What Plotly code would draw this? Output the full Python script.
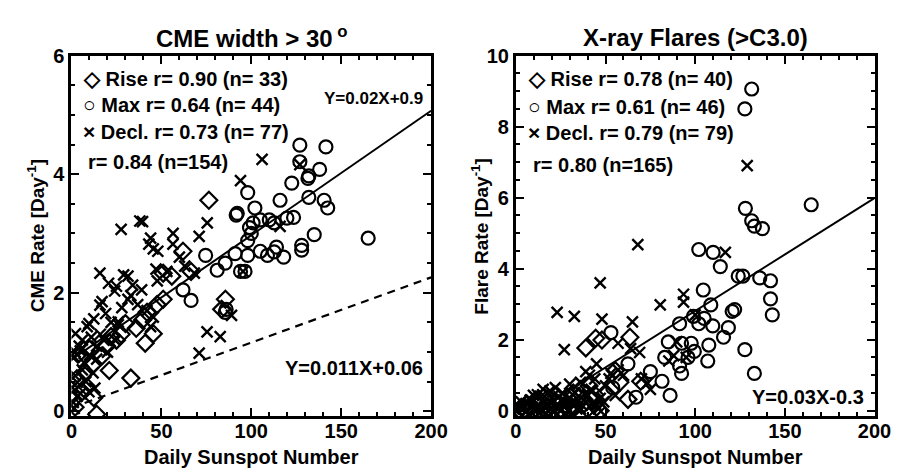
import plotly.graph_objects as go

# ---------------- data: CME panel ----------------
cme_rise_x = [76.4, 62, 51, 55.8, 66.5, 85.6, 83.5, 33, 14, 41, 45.5, 39.5, 42, 47.6, 51, 22, 21, 16.8,
              12.4, 7.6, 4.3, 2, 11.4, 27.6, 30, 19.5, 8.7, 6, 3, 1, 10, 25, 36]
cme_rise_y = [3.56, 2.7, 2.33, 2.28, 2.36, 1.89, 1.72, 0.56, -0.05, 1.15, 1.31, 1.54, 1.67, 1.8, 1.89, 1.26,
              0.69, 0.93, 0.23, 0.66, 0.98, 0.07, 0.77, 1.3, 1.48, 1.1, 0.41, 0.33, 0.55, 0.2, 1.05, 1.2, 1.4]

cme_max_x = [127, 141.5, 127, 132, 138, 131.5, 122.5, 98, 132, 116, 140.5, 142.5, 102, 91.6, 92.2, 101, 105,
             110, 112.7, 119.8, 123.5, 99, 135, 165, 98, 105, 109, 112.7, 118, 128, 128, 74.6, 85.5, 81, 91,
             98, 96.5, 62, 66.5, 85.5, 94, 114, 100, 86]
cme_max_y = [4.49, 4.46, 4.21, 3.97, 4.08, 3.93, 3.85, 3.69, 3.61, 3.56, 3.56, 3.43, 3.43, 3.31, 3.34, 3.18,
             3.23, 3.23, 3.18, 3.26, 3.27, 3.10, 2.98, 2.92, 2.88, 2.70, 2.63, 2.69, 2.60, 2.80, 2.72, 2.63,
             2.50, 2.38, 2.66, 2.63, 2.36, 2.05, 1.87, 1.67, 2.36, 2.77, 3.0, 1.72]

cme_decl_x = [106, 94, 75.5, 71, 56.5, 39.5, 38, 27.6, 44, 56.4, 127, 43, 48, 15.8, 20.6, 31.4, 34, 24, 31.4,
              36.8, 47.7, 53, 68.3, 15.8, 12.4, 9.7, 26, 24, 75.4, 82.7, 71, 89, 95.4, 2.2, 4.3, 7, 3.2, 9.7,
              13, 45.5, 44, 29, 25, 8.7, 14, 4.9, 26, 47, 63, 116, 45.5, 17, 11, 1, 2, 5, 1, 6, 10, 18, 20,
              14, 3, 8, 12, 16, 22, 19, 33, 2, 6, 0.5, 1.5, 28, 39, 42, 60]
cme_decl_y = [4.25, 3.89, 3.18, 2.95, 3.0, 3.2, 3.21, 3.07, 2.92, 2.82, 4.16, 2.82, 2.70, 2.33, 2.16, 2.28,
              2.13, 2.03, 1.89, 1.80, 2.20, 2.36, 2.33, 1.79, 1.56, 1.48, 1.46, 1.21, 1.34, 1.26, 0.98, 1.62,
              2.36, 1.31, 1.10, 0.82, 0.49, 0.33, 0.39, 1.59, 1.43, 2.30, 2.11, 1.43, 0.88, 1.02, 1.51, 2.40,
              2.45, 3.12, 2.74, 1.85, 1.25, 0.9, 0.6, 0.3, 0.15, 0.7, 0.95, 1.2, 1.0, 1.1, 0.25, 0.5, 0.65,
              1.3, 1.5, 1.65, 1.95, 1.0, 1.2, 0.4, 0.05, 1.75, 2.05, 1.7, 2.6]

cme_fit_all = [0.021, 0.87]     # slope, intercept (solid)
cme_fit_ref = [0.011, 0.06]     # slope, intercept (dashed)

# ---------------- data: flare panel ----------------
fl_rise_x = [39, 44.5, 63.6, 48, 55.4, 62.5, 69.6, 40.8, 50, 2, 5, 8, 10, 12, 15, 18, 20, 22, 25, 28, 30, 33,
             35, 38, 40, 42, 45, 47, 6, 14, 24, 32, 36, 44, 26, 17, 3, 30, 11, 58]
fl_rise_y = [1.77, 2.04, 2.07, 1.99, 1.13, 0.32, 0.83, 0.7, 0.51, 0.02, 0.05, 0.1, 0.0, 0.15, 0.05, 0.1, 0.0,
             0.2, 0.05, 0.15, 0.3, 0.1, 0.4, 0.2, 0.05, 0.3, 0.1, 0.0, 0.2, 0.25, 0.35, 0.5, 0.6, 0.45, 0.0,
             0.0, 0.1, 0.05, 0.3, 0.8]

fl_max_x = [131.5, 127.7, 128, 131.5, 133, 137.5, 164.7, 102, 110, 114, 124, 126.6, 136, 142, 142, 143,
            104.5, 108.7, 120.6, 122, 118.5, 115.8, 109.8, 102, 105, 91.3, 99, 107.6, 97.8, 92.4, 85, 99.5,
            96, 107, 91.3, 92.4, 83, 81.5, 86, 127.7, 133, 53, 62.5, 54, 67, 75]
fl_max_y = [9.06, 8.5, 5.7, 5.35, 5.2, 5.13, 5.8, 4.54, 4.46, 4.06, 3.79, 3.79, 3.74, 3.66, 3.15, 2.7, 3.4,
            2.98, 2.8, 2.85, 2.34, 2.07, 2.39, 2.45, 2.6, 2.45, 2.66, 1.85, 1.9, 1.9, 1.94, 1.67, 1.5, 1.4,
            1.26, 1.05, 1.5, 0.83, 0.43, 1.72, 1.05, 2.2, 1.32, 0.65, 0.38, 1.1]

fl_decl_x = [129, 68, 116.8, 47, 23, 32.6, 48, 65, 80.5, 93.5, 93.5, 27, 57, 69, 89.7, 45, 39, 53, 73.4, 75,
             55.4, 85.3, 19, 9.8, 15.2, 100, 95, 88, 60, 57, 64, 70, 36, 42, 47, 38, 33, 28, 24, 20, 17, 13,
             11, 7, 4, 2, 1, 6, 9, 14, 16, 19, 21, 23, 26, 29, 31, 34, 37, 40, 43, 46, 49, 50, 52, 44, 36,
             27, 12, 8, 3, 18, 22, 30, 41, 35, 25, 45, 15]
fl_decl_y = [6.9, 4.68, 4.46, 3.6, 2.77, 2.66, 2.58, 2.5, 2.98, 3.28, 3.06, 1.72, 1.9, 1.64, 1.94, 1.32, 1.1,
             1.05, 0.78, 0.6, 0.43, 1.4, 0.56, 0.43, 0.6, 2.7, 1.5, 1.55, 1.0, 1.15, 1.75, 0.9, 0.8, 0.6,
             0.35, 0.3, 0.5, 0.25, 0.4, 0.2, 0.35, 0.15, 0.05, 0.2, 0.05, 0.1, 0.0, 0.0, 0.1, 0.0, 0.1, 0.05,
             0.3, 0.1, 0.5, 0.0, 0.2, 0.05, 0.15, 0.45, 0.2, 0.05, 0.25, 0.7, 0.9, 0.9, 0.05, 0.1, 0.45, 0.3,
             0.25, 0.5, 0.65, 0.75, 1.0, 0.3, 0.0, 0.15, 0.45]

fl_fit_all = [0.0318, -0.37]

x_line = [0, 200]
x_ticks = [0, 50, 100, 150, 200]
cme_y_ticks = [0, 2, 4, 6]
fl_y_ticks = [0, 2, 4, 6, 8, 10]

# ---------------- figure ----------------
W, H = 903, 469
FONT = "Liberation Sans"
fig = go.Figure()

circ = dict(symbol="circle-open", size=13, color="black", line=dict(width=2.2, color="black"))
diam = dict(symbol="diamond-open", size=13, color="black", line=dict(width=2.2, color="black"))
xmk = dict(symbol="x-thin-open", size=11, color="black", line=dict(width=2.4, color="black"))

for xa, ya, sets in [("x", "y", [(cme_rise_x, cme_rise_y, diam), (cme_max_x, cme_max_y, circ),
                                (cme_decl_x, cme_decl_y, xmk)]),
                     ("x2", "y2", [(fl_rise_x, fl_rise_y, diam), (fl_max_x, fl_max_y, circ),
                                   (fl_decl_x, fl_decl_y, xmk)])]:
    for xs, ys, mk in sets:
        fig.add_trace(go.Scatter(x=xs, y=ys, mode="markers", marker=mk, xaxis=xa, yaxis=ya,
                                 showlegend=False, hoverinfo="skip"))

def fit_y(coef):
    return [coef[0] * v + coef[1] for v in x_line]

fig.add_trace(go.Scatter(x=x_line, y=fit_y(cme_fit_all), mode="lines", line=dict(color="black", width=2),
                         xaxis="x", yaxis="y", showlegend=False))
fig.add_trace(go.Scatter(x=x_line, y=fit_y(cme_fit_ref), mode="lines",
                         line=dict(color="black", width=2.2, dash="8px,6px"),
                         xaxis="x", yaxis="y", showlegend=False))
fig.add_trace(go.Scatter(x=x_line, y=fit_y(fl_fit_all), mode="lines", line=dict(color="black", width=2),
                         xaxis="x2", yaxis="y2", showlegend=False))

# invisible traces so the mirrored (top/right) tick axes get drawn
fig.add_trace(go.Scatter(x=[100], y=[1], mode="markers", marker=dict(opacity=0), xaxis="x3", yaxis="y3",
                         showlegend=False, hoverinfo="skip"))
fig.add_trace(go.Scatter(x=[100], y=[1], mode="markers", marker=dict(opacity=0), xaxis="x4", yaxis="y4",
                         showlegend=False, hoverinfo="skip"))

tickfont = dict(family=FONT, size=20, color="black", weight="bold")
ydom = [(H - 412) / H, (H - 38) / H]
xdom1 = [59 / W, 428 / W]
xdom2 = [515 / W, 883 / W]

def tick_common(dtick_minor):
    return dict(ticks="inside", ticklen=8, tickwidth=2, tickcolor="black", showgrid=False, zeroline=False,
                minor=dict(ticks="inside", ticklen=4, tickwidth=1.5, tickcolor="black", dtick=dtick_minor,
                           showgrid=False))

def xax(dom, anchor):
    d = dict(domain=dom, anchor=anchor, range=[0, 200], tickvals=x_ticks, mirror=True,
             showline=True, linewidth=3, linecolor="black", tickfont=tickfont, ticklabelstandoff=-5)
    d.update(tick_common(10))
    return d

def yax(rng, vals, anchor):
    d = dict(domain=ydom, anchor=anchor, range=rng, tickvals=vals, mirror=True,
             showline=True, linewidth=3, linecolor="black", tickfont=tickfont, ticklabelstandoff=0)
    d.update(tick_common(0.5))
    return d

def xtop(over, anchor):
    d = dict(overlaying=over, side="top", anchor=anchor, range=[0, 200], tickvals=x_ticks,
             showticklabels=False, showline=False)
    d.update(tick_common(10))
    return d

def yright(over, anchor, rng, vals):
    d = dict(overlaying=over, side="right", anchor=anchor, range=rng, tickvals=vals,
             showticklabels=False, showline=False)
    d.update(tick_common(0.5))
    return d

fig.update_layout(
    width=W, height=H, margin=dict(l=0, r=0, t=0, b=0),
    paper_bgcolor="white", plot_bgcolor="white",
    xaxis=xax(xdom1, "y"),
    yaxis=yax([-0.08, 6.0], cme_y_ticks, "x"),
    xaxis2=xax(xdom2, "y2"),
    yaxis2=yax([-0.15, 10.0], fl_y_ticks, "x2"),
    xaxis3=xtop("x", "y"),
    yaxis3=yright("y", "x", [-0.08, 6.0], cme_y_ticks),
    xaxis4=xtop("x2", "y2"),
    yaxis4=yright("y2", "x2", [-0.15, 10.0], fl_y_ticks),
)

def ann(px, py, text, size=20, xanchor="left", angle=0):
    fig.add_annotation(x=px / W, y=1 - py / H, xref="paper", yref="paper", text=text, showarrow=False,
                       xanchor=xanchor, yanchor="middle", textangle=angle,
                       font=dict(family=FONT, size=size, color="black", weight="bold"))

# titles
ann(244, 19, "CME width > 30<sup> o</sup>", size=24, xanchor="center")
ann(699, 19, "X-ray Flares (>C3.0)", size=24, xanchor="center")
ann(244, 454, "Daily Sunspot Number", size=20, xanchor="center")
ann(699, 454, "Daily Sunspot Number", size=20, xanchor="center")
ann(22, 225, "CME Rate [Day<sup>-1</sup>]", size=19, xanchor="center", angle=-90)
ann(478, 225, "Flare Rate [Day<sup>-1</sup>]", size=19, xanchor="center", angle=-90)

SYM = '<span style="font-size:21px">{}</span>'
# left legend text
ann(69, 62, SYM.format("◇") + " Rise r= 0.90 (n= 33)")
ann(69, 89, SYM.format("○") + " Max r= 0.64 (n= 44)")
ann(69, 117, SYM.format("×") + " Decl. r= 0.73 (n= 77)")
ann(74, 148, "r= 0.84 (n=154)")
ann(422, 82, "Y=0.02X+0.9", size=17, xanchor="right")
ann(422, 362, "Y=0.011X+0.06", xanchor="right")

# right legend text
ann(525, 62, SYM.format("◇") + " Rise r= 0.78 (n= 40)")
ann(525, 91, SYM.format("○") + " Max r= 0.61 (n= 46)")
ann(525, 118, SYM.format("×") + " Decl. r= 0.79 (n= 79)")
ann(531, 152, "r= 0.80 (n=165)")
ann(874, 392, "Y=0.03X-0.3", xanchor="right")

fig.write_html("out.html")
